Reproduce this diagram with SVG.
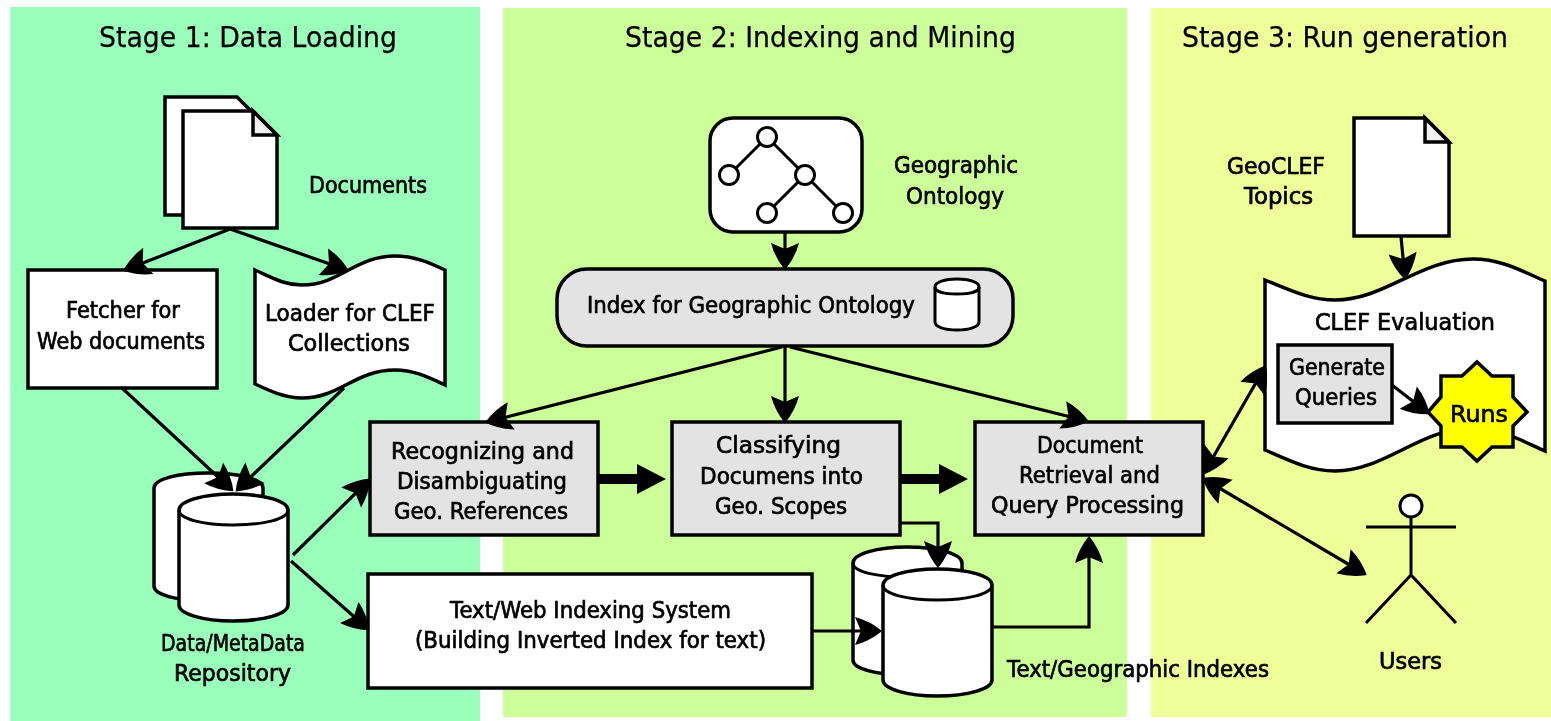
<svg xmlns="http://www.w3.org/2000/svg" width="1551" height="721" viewBox="0 0 1551 721">
<style>
text{font-family:"DejaVu Sans","Liberation Sans",sans-serif;font-size:22.5px;fill:#000;stroke:#000;stroke-width:.7px}
.t{font-size:28px;stroke-width:.25px}
.s{fill:#fff;stroke:#000;stroke-width:3.5;stroke-linejoin:miter}
.g{fill:#e3e3e3;stroke:#000;stroke-width:3.5}
.f{fill:#f0f0f0;stroke:#000;stroke-width:3.5}
.l{fill:none;stroke:#000;stroke-width:3}
.n{stroke-width:3;fill:#fff;stroke:#000}
.c{fill:none;stroke:#000;stroke-width:3.2;marker-end:url(#a)}
.b{marker-start:url(#a)}
.h{fill:none;stroke:#000;stroke-width:10;marker-end:url(#h)}
</style>
<defs>
<marker id="a" markerUnits="userSpaceOnUse" markerWidth="32" markerHeight="32" viewBox="-29 -16 32 32" refX="0" refY="0" orient="auto-start-reverse"><path d="M2,0 Q-10,-10 -25,-14 L-19,0 L-25,14 Q-10,10 2,0 Z" fill="#000"/></marker>
<marker id="h" markerUnits="userSpaceOnUse" markerWidth="32" markerHeight="32" viewBox="0 -16 32 32" refX="0" refY="0" orient="auto"><path d="M0,-15 L29,0 L0,15 Z" fill="#000"/></marker>
<filter id="soft" x="0" y="0" width="100%" height="100%"><feGaussianBlur stdDeviation="0.45"/></filter>
</defs>
<rect width="1551" height="721" fill="#fff"/>
<g filter="url(#soft)">
<g id="panels">
<rect x="10" y="7" width="470" height="714" fill="#99ffbb"/>
<rect x="503" y="8" width="624" height="709" fill="#ccff99"/>
<rect x="1151" y="8" width="400" height="709" fill="#eeff99"/>
<text class="t" x="99" y="47" textLength="298" lengthAdjust="spacingAndGlyphs">Stage 1: Data Loading</text>
<text class="t" x="625" y="47" textLength="391" lengthAdjust="spacingAndGlyphs">Stage 2: Indexing and Mining</text>
<text class="t" x="1182" y="47" textLength="326" lengthAdjust="spacingAndGlyphs">Stage 3: Run generation</text>
</g>
<g id="documents">
<path class="s" d="M165,97H237L261,121V215H165Z"/>
<path class="s" d="M183,111H253L277,135V228H183Z"/>
<path class="f" d="M253,111L277,135H253Z"/>
<text x="309" y="193" textLength="118" lengthAdjust="spacingAndGlyphs">Documents</text>
</g>
<g id="fetcher">
<rect class="s" x="28" y="270" width="189" height="118"/>
<text x="66" y="318" textLength="114" lengthAdjust="spacingAndGlyphs">Fetcher for</text>
<text x="37" y="349" textLength="168" lengthAdjust="spacingAndGlyphs">Web documents</text>
</g>
<g id="loader">
<path class="s" d="M255,270C275,279 285,285 302,285C340,285 355,256 395,256C415,256 430,263 445,270V385C430,378 415,370 395,370C355,370 340,398 302,398C285,398 270,391 255,384Z"/>
<text x="265" y="321" textLength="170" lengthAdjust="spacingAndGlyphs">Loader for CLEF</text>
<text x="288" y="351" textLength="122" lengthAdjust="spacingAndGlyphs">Collections</text>
</g>
<g id="repository">
<path class="s" d="M154,488C154,479 178,473 208,473C238,473 263,479 263,488V586C263,595 238,601 208,601C178,601 154,595 154,586Z"/>
<path class="s" d="M179,510C179,501 203,494 233,494C264,494 288,501 288,510V605C288,614 264,621 233,621C203,621 179,614 179,605Z"/>
<path class="l" d="M179,510C179,519 203,525 233,525C264,525 288,519 288,510"/>
<text x="161" y="651" textLength="144" lengthAdjust="spacingAndGlyphs">Data/MetaData</text>
<text x="174" y="681" textLength="117" lengthAdjust="spacingAndGlyphs">Repository</text>
</g>
<g id="ontology">
<rect class="s" x="710" y="118" width="152" height="114" rx="23"/>
<path class="l" d="M767,137L729,175M767,137L805,175L767,213M805,175L843,213"/>
<circle class="n" cx="767" cy="137" r="9.5"/><circle class="n" cx="729" cy="175" r="9.5"/><circle class="n" cx="805" cy="175" r="9.5"/><circle class="n" cx="767" cy="213" r="9.5"/><circle class="n" cx="843" cy="213" r="9.5"/>
<text x="894" y="173" textLength="124" lengthAdjust="spacingAndGlyphs">Geographic</text>
<text x="906" y="204" textLength="98" lengthAdjust="spacingAndGlyphs">Ontology</text>
</g>
<g id="index-ontology">
<rect class="g" x="557" y="269" width="456" height="77" rx="30"/>
<path class="s" style="stroke-width:3" d="M935,287C935,282 945,279 957,279C969,279 979,282 979,287V322C979,327 969,330 957,330C945,330 935,327 935,322Z"/>
<path class="l" d="M935,287C935,292 945,294 957,294C969,294 979,292 979,287"/>
<text x="587" y="313" textLength="328" lengthAdjust="spacingAndGlyphs">Index for Geographic Ontology</text>
</g>
<g id="recognizing">
<rect class="g" x="370" y="422" width="228" height="113"/>
<text x="391" y="459" textLength="183" lengthAdjust="spacingAndGlyphs">Recognizing and</text>
<text x="397" y="489" textLength="170" lengthAdjust="spacingAndGlyphs">Disambiguating</text>
<text x="394" y="519" textLength="174" lengthAdjust="spacingAndGlyphs">Geo. References</text>
</g>
<g id="classifying">
<rect class="g" x="672" y="422" width="228" height="113"/>
<text x="716" y="453" textLength="125" lengthAdjust="spacingAndGlyphs">Classifying</text>
<text x="700" y="484" textLength="163" lengthAdjust="spacingAndGlyphs">Documens into</text>
<text x="715" y="514" textLength="132" lengthAdjust="spacingAndGlyphs">Geo. Scopes</text>
</g>
<g id="retrieval">
<rect class="g" x="975" y="422" width="228" height="113"/>
<text x="1037" y="453" textLength="106" lengthAdjust="spacingAndGlyphs">Document</text>
<text x="1019" y="483" textLength="141" lengthAdjust="spacingAndGlyphs">Retrieval and</text>
<text x="991" y="513" textLength="193" lengthAdjust="spacingAndGlyphs">Query Processing</text>
</g>
<g id="text-indexing">
<rect class="s" x="368" y="574" width="444" height="114"/>
<text x="450" y="618" textLength="281" lengthAdjust="spacingAndGlyphs">Text/Web Indexing System</text>
<text x="415" y="648" textLength="351" lengthAdjust="spacingAndGlyphs">(Building Inverted Index for text)</text>
</g>
<g id="indexes">
<path class="s" d="M853,563C853,554 877,547 907,547C938,547 962,554 962,563V660C962,669 938,675 907,675C877,675 853,669 853,660Z"/>
<path class="l" d="M853,563C853,572 877,577 907,577"/>
<path class="s" d="M883,585C883,576 907,569 937,569C968,569 992,576 992,585V680C992,689 968,696 937,696C907,696 883,689 883,680Z"/>
<path class="l" d="M883,585C883,594 907,600 937,600C968,600 992,594 992,585"/>
<text x="1007" y="677" textLength="262" lengthAdjust="spacingAndGlyphs">Text/Geographic Indexes</text>
</g>
<g id="topics">
<path class="s" d="M1354,118H1425L1449,142V236H1354Z"/>
<path class="f" d="M1425,118L1449,142H1425Z"/>
<text x="1227" y="174" textLength="98" lengthAdjust="spacingAndGlyphs">GeoCLEF</text>
<text x="1244" y="204" textLength="69" lengthAdjust="spacingAndGlyphs">Topics</text>
</g>
<g id="clef">
<path class="s" d="M1265,280C1290,290 1310,300 1335,300C1385,300 1420,259 1473,259C1500,259 1520,270 1545,281V451C1520,440 1500,428 1473,428C1420,428 1385,471 1335,471C1310,471 1290,461 1265,450Z"/>
<text x="1315" y="330" textLength="180" lengthAdjust="spacingAndGlyphs">CLEF Evaluation</text>
</g>
<g id="generate">
<rect class="g" x="1278" y="345" width="114" height="78"/>
<text x="1289" y="375" textLength="96" lengthAdjust="spacingAndGlyphs">Generate</text>
<text x="1295" y="405" textLength="82" lengthAdjust="spacingAndGlyphs">Queries</text>
</g>
<g id="runs">
<path d="M1477,362L1492,376H1513V397L1527,412L1513,426V447H1492L1477,461L1462,447H1441V426L1428,412L1441,397V376H1462Z" fill="#ffff00" stroke="#000" stroke-width="3.5"/>
<text x="1450" y="422" textLength="58" lengthAdjust="spacingAndGlyphs">Runs</text>
</g>
<g id="users">
<circle class="n" cx="1411" cy="506" r="11"/>
<path class="l" d="M1411,517V575M1366,527H1456M1366,623L1411,575L1456,623"/>
<text x="1379" y="669" textLength="63" lengthAdjust="spacingAndGlyphs">Users</text>
</g>
<g id="connectors">
<path class="c" d="M230,229L125,270"/>
<path class="c" d="M230,229L347,270"/>
<path class="c" d="M122,388L232,490"/>
<path class="c" d="M344,388L237,490"/>
<path class="c" d="M293,555L369,480"/>
<path class="c" d="M291,561L368,629"/>
<path class="c" d="M785,232V268"/>
<path class="c" d="M782,347L487,422"/>
<path class="c" d="M785,347V421"/>
<path class="c" d="M790,347L1087,421"/>
<path class="h" d="M598,479H637"/>
<path class="h" d="M900,479H939"/>
<path class="c" d="M900,523H938V566"/>
<path class="c" d="M812,631H880"/>
<path class="c" d="M992,627H1089V538"/>
<path class="c b" d="M1204,473L1265,367"/>
<path class="c b" d="M1204,479L1365,574"/>
<path class="c" d="M1401,237L1405,278"/>
<path class="c" d="M1392,385L1428,413"/>
</g>
</g>
</svg>
